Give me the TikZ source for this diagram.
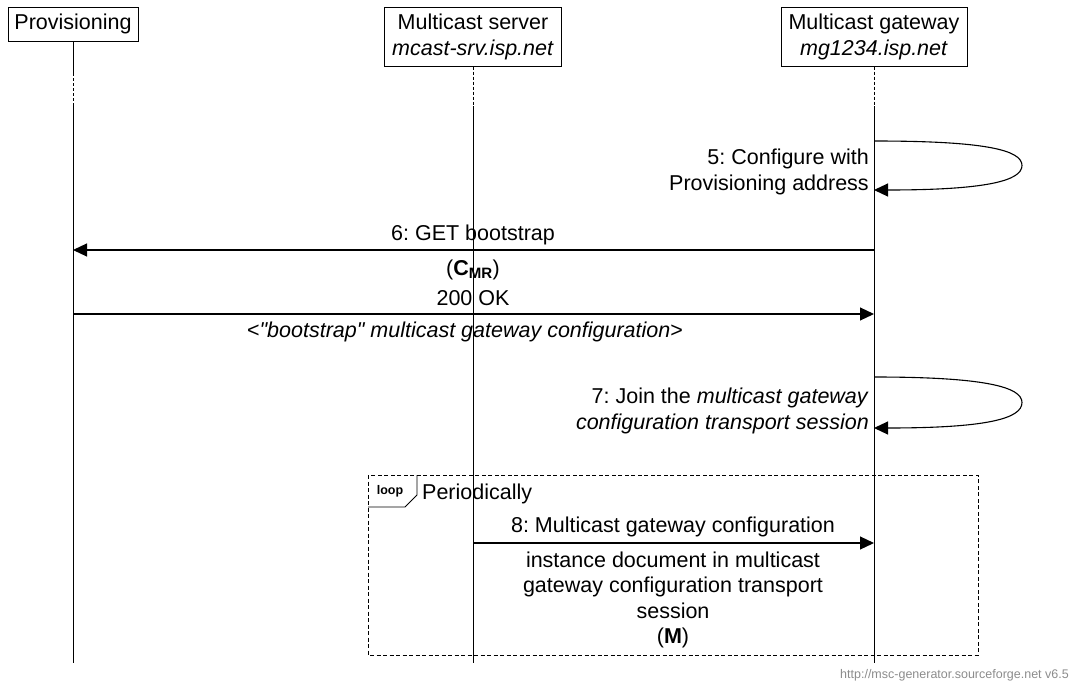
\documentclass[tikz,border=0pt]{standalone}
\usepackage{fontspec}
\setmainfont{Liberation Sans}
% same face without the TeX input mapping, for straight double quotes
\newfontfamily\straightq{Liberation Sans}
\usetikzlibrary{arrows.meta}
\frenchspacing

\begin{document}
\begin{tikzpicture}[x=1pt,y=-1pt,
  every node/.style={font=\fontsize{21.5}{26}\selectfont, inner sep=0pt},
  entity/.style={draw, line width=1pt, align=center},
  life/.style={line width=0.9pt},
  lifeoff/.style={line width=0.9pt, dash pattern=on 3pt off 2pt},
  msg/.style={line width=1.1pt, -{Triangle[length=14pt,width=13pt]}},
  lbl/.style={align=center},
  selflbl/.style={align=right, anchor=east},
  framebox/.style={line width=0.9pt, dash pattern=on 4pt off 2.5pt},
  tag/.style={line width=0.9pt},
  tagtext/.style={font=\fontsize{12.5}{14}\selectfont\bfseries},
  footer/.style={font=\fontsize{12.5}{14}\selectfont, text=black!45, anchor=east}]

\useasboundingbox (0,0) rectangle (1072,688);

% entity headings
\node[entity, minimum width=130pt, minimum height=34pt] (prov) at (73,24) {Provisioning};
\node[entity, minimum width=177pt, minimum height=59pt] (srv) at (473,36.5)
  {Multicast server\\\textit{mcast-srv.isp.net}};
\node[entity, minimum width=186pt, minimum height=59pt] (gw) at (874,36.5)
  {Multicast gateway\\\textit{mg1234.isp.net}};

% lifeline way points
\coordinate (p0) at (73,73);
\coordinate (p1) at (73,106);
\coordinate (pe) at (73,663);
\coordinate (s1) at (473,106);
\coordinate (se) at (473,663);
\coordinate (g1) at (874,106);
\coordinate (ge) at (874,663);

\draw[life] (prov.south) -- (p0);
\draw[lifeoff] (p0) -- (p1);
\draw[life] (p1) -- (pe);
\draw[lifeoff] (srv.south) -- (s1);
\draw[life] (s1) -- (se);
\draw[lifeoff] (gw.south) -- (g1);
\draw[life] (g1) -- (ge);

% 5: self message
\coordinate (g5a) at (874,141);
\coordinate (g5b) at (874,190);
\draw[msg] (g5a) .. controls (985,141) and (1022,150) .. (1022,165.5)
  .. controls (1022,181) and (985,190) .. (g5b);
\node[selflbl] (l5) at (869,172) {5: Configure with\\Provisioning address};

% 6: GET bootstrap
\coordinate (g6) at (874,250);
\coordinate (p6) at (73,250);
\draw[msg] (g6) -- (p6);
\node[lbl] (l6) at (473,235) {6: GET bootstrap};
\node[lbl] (l6b) at (473,270) {(\textbf{C}\textsubscript{\textbf{MR}})};

% 200 OK
\coordinate (p7) at (73,314);
\coordinate (g7) at (874,314);
\draw[msg] (p7) -- (g7);
\node[lbl] (l7) at (473,298) {200 OK};
\node[lbl] (l7b) at (465,332)
  {<\textit{{\straightq "}bootstrap{\straightq "} multicast gateway configuration}>};

% 7: self message
\coordinate (g8a) at (874,377);
\coordinate (g8b) at (874,428);
\draw[msg] (g8a) .. controls (985,377) and (1022,387) .. (1022,402.5)
  .. controls (1022,419) and (985,428) .. (g8b);
\node[selflbl] (l8) at (869,411) {7: Join the \textit{multicast gateway}\\\textit{configuration transport session}};

% loop frame
\draw[framebox] (368,475) rectangle (978,655);
\draw[tag] (368,507) -- (405,507) -- (417,495) -- (417,475);
\node[tagtext] (looptag) at (390,491) {loop};
\node[anchor=west] (period) at (422,494) {Periodically};

% 8: configuration instance
\coordinate (s9) at (473,543);
\coordinate (g9) at (874,543);
\draw[msg] (s9) -- (g9);
\node[lbl] (l9) at (673,527) {8: Multicast gateway configuration};
\node[lbl, font=\fontsize{21.5}{25.3}\selectfont] (l9b) at (673,600)
  {instance document in multicast\\gateway configuration transport\\session\\(\textbf{M})};

\node[footer] (foot) at (1069,675) {http://msc-generator.sourceforge.net v6.5};
\end{tikzpicture}
\end{document}
